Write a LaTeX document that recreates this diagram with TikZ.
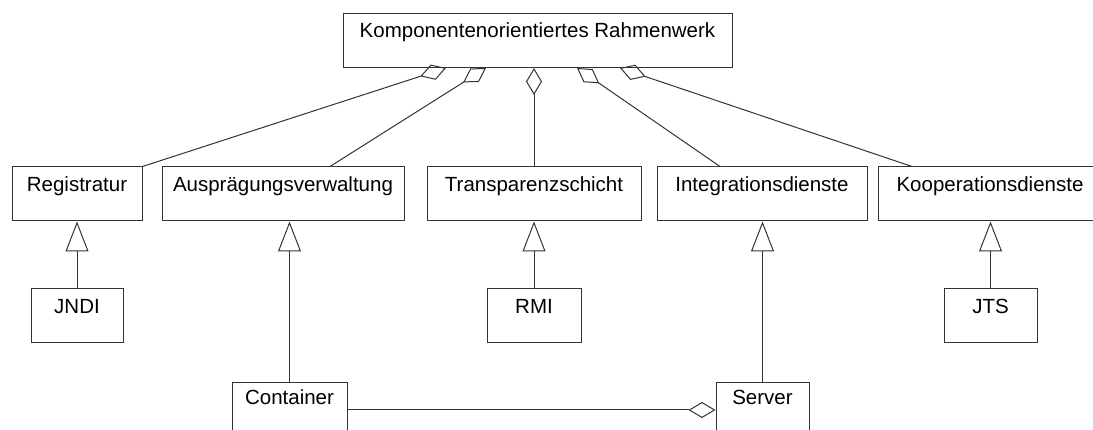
\documentclass[tikz,border=0pt]{standalone}
\usepackage{fontspec}
\setmainfont{Liberation Sans}
\usetikzlibrary{arrows.meta,calc}

\begin{document}
\begin{tikzpicture}[
  x=1pt, y={(0,-1pt)},
  klasse/.style={rectangle, draw=black!80, line width=1pt, inner sep=0pt, minimum height=54pt,
    text height=25pt, text depth=29pt, font=\fontsize{20.5}{24}\selectfont},
  aggr/.style={-{Diamond[open, length=27pt, width=16pt]}, draw=black!80, line width=1pt},
  gen/.style={-{Triangle[open, length=30pt, width=23pt]}, draw=black!80, line width=1pt}
]
  \useasboundingbox (0,0) rectangle (1093,430);
  \clip (0,0) rectangle (1093,430);

  \node[klasse, minimum width=389pt, text height=24pt] (rahmen) at (537.5,40.5) {Komponentenorientiertes Rahmenwerk};

  \node[klasse, minimum width=130pt] (registratur) at (77,194) {Registratur};
  \node[klasse, minimum width=242pt] (auspraegung) at (283,194) {Ausprägungsverwaltung};
  \node[klasse, minimum width=214pt] (transparenz) at (534,194) {Transparenzschicht};
  \node[klasse, minimum width=210pt] (integration) at (762,194) {Integrationsdienste};
  \node[klasse, minimum width=224pt] (kooperation) at (990,194) {Kooperationsdienste};

  \node[klasse, minimum width=92pt] (jndi) at (77,316) {JNDI};
  \node[klasse, minimum width=94pt] (rmi) at (534,316) {RMI};
  \node[klasse, minimum width=93pt] (jts) at (990.5,316) {JTS};

  \node[klasse, minimum width=115pt, text height=22pt, text depth=32pt] (container) at (289.5,410) {Container};
  \node[klasse, minimum width=93pt, text height=22pt, text depth=32pt] (server) at (762.5,410) {Server};

  % aggregation into the framework
  \draw[aggr] (registratur.north east) -- ($(rahmen.south)+(-91.5,0)$);
  \draw[aggr] ($(auspraegung.north)+(47,0)$) -- ($(rahmen.south)+(-51.5,0)$);
  \draw[aggr] (transparenz.north) -- (transparenz.north |- rahmen.south);
  \draw[aggr] ($(integration.north)+(-42,0)$) -- ($(rahmen.south)+(39.5,0)$);
  \draw[aggr] ($(kooperation.north)+(-78,0)$) -- ($(rahmen.south)+(82.5,0)$);
  \draw[aggr] (container) -- (server);

  % generalisation
  \draw[gen] (jndi.north) -- (jndi.north |- registratur.south);
  \draw[gen] (container.north) -- (container.north |- auspraegung.south);
  \draw[gen] (rmi.north) -- (rmi.north |- transparenz.south);
  \draw[gen] (server.north) -- (server.north |- integration.south);
  \draw[gen] (jts.north) -- (jts.north |- kooperation.south);
\end{tikzpicture}
\end{document}
